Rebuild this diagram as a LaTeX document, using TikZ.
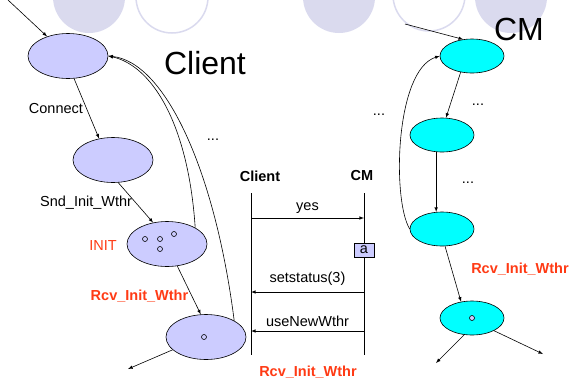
\documentclass[tikz,border=0pt]{standalone}
\usepackage{fontspec}
\setmainfont{Liberation Sans}
\usepackage{xcolor}
\usetikzlibrary{shapes.geometric}

\definecolor{clientfill}{HTML}{CCCCFF}
\definecolor{cmfill}{HTML}{00FFFF}
\definecolor{rcvred}{HTML}{FF3A14}
\definecolor{bgcirc}{HTML}{DADAEE}

\begin{document}
\begin{tikzpicture}[
    x = 1pt, y = -1pt,
    line width              = 0.6pt,
    every node/.style       = {font=\fontsize{14.5}{16}\selectfont},
    cstate/.style           = {ellipse, draw, fill=clientfill, minimum width=80pt, minimum height=45pt, inner sep=0},
    mstate/.style           = {ellipse, draw, fill=cmfill, minimum width=64pt, minimum height=34pt, inner sep=0},
    tok/.style              = {circle, draw, inner sep=0, minimum size=5pt},
    rcv/.style              = {text=rcvred, font=\fontsize{14.5}{16}\selectfont\bfseries},
    big/.style              = {font=\fontsize{32}{36}\selectfont},
    msg/.style              = {-latex}
  ]
\useasboundingbox (0,0) rectangle (570,381);
% background decoration
\fill[bgcirc] (89,-3) circle[radius=36pt];
\draw[bgcirc, line width=1.5pt] (172,-3) circle[radius=36pt];
\fill[bgcirc] (339,-3) circle[radius=36pt];
\draw[bgcirc, line width=1.5pt] (429,-5) circle[radius=36pt];
\fill[bgcirc] (511,-3) circle[radius=36pt];

% client automaton
\node[big] (clienttitle) at (205,63) {Client};
\node[cstate] (E1) at (68,56) {};
\node[cstate] (E2) at (113,160) {};
\node[cstate] (E3) at (167,244) {};
\node[cstate] (E4) at (206,337) {};
\node[tok] (t1) at (145,239) {};
\node[tok] (t2) at (160,239) {};
\node[tok] (t3) at (174,234) {};
\node[tok] (t4) at (160,249) {};
\node[tok] (t5) at (204,337) {};
\node[text=rcvred] (init) at (103,246) {INIT};
\node (cdots) at (213,140) {...};
\coordinate (cin) at (8,0);
\coordinate (cout) at (128,369);

\draw[msg] (cin) -- (E1);
\draw[msg] (E1.-75) -- node[left]{Connect} (E2.123);
\draw[msg] (E2.-77) -- node[left]{Snd\_Init\_Wthr} (E3.123);
\draw[msg] (E3.-65) -- node[left, rcv, pos=.62]{Rcv\_Init\_Wthr} (E4.103);
\draw[msg] (E4.201) -- (cout);
\draw[msg] (E3.30) .. controls (188,120) and (150,65) .. (E1.east);
\draw[msg] (E4.30) .. controls (215,170) and (165,62) .. (E1.east);

% CM automaton
\node[big] (cmtitle) at (519,29) {CM};
\node[mstate] (C1) at (472,56) {};
\node[mstate] (C2) at (442,135) {};
\node[mstate] (C3) at (442,229) {};
\node[mstate] (C4) at (472,318) {};
\node[tok, fill=clientfill] (t6) at (472,318) {};
\node (mdots1) at (379,115) {...};
\node (mdots2) at (478,105) {...};
\node (mdots3) at (468,183) {...};
\node[rcv] (mrcv) at (520,269) {Rcv\_Init\_Wthr};
\coordinate (min) at (405,24);
\coordinate (mout1) at (436,363);
\coordinate (mout2) at (543,354);

\draw[msg] (min) -- (C1.118);
\draw[msg] (C1.235) -- (C2.77);
\draw[msg] (C2.251) -- (C3.109);
\draw[msg] (C3.280) -- (C4.124);
\draw[msg] (C4.245) -- (mout1);
\draw[msg] (C4.330) -- (mout2);
\draw[msg] (C3.west) .. controls (392,200) and (395,70) .. (C1.west);

% message sequence
\node[font=\fontsize{14.5}{16}\selectfont\bfseries] (hcl) at (260,176) {Client};
\node[font=\fontsize{14.5}{16}\selectfont\bfseries] (hcm) at (362,176) {CM};
\coordinate (clt) at (251,193);
\coordinate (clb) at (251,355);
\coordinate (cmt) at (364,193);
\coordinate (cmb) at (364,355);
\draw (clt) -- (clb);
\draw (cmt) -- (cmb);
\coordinate (yes1) at (251,218);
\coordinate (yes2) at (364,218);
\coordinate (set1) at (364,292);
\coordinate (set2) at (251,292);
\coordinate (use1) at (364,331);
\coordinate (use2) at (251,331);
\draw[msg] (yes1) -- node[above=1pt]{yes} (yes2);
\draw[msg] (set1) -- node[above=3pt]{setstatus(3)} (set2);
\draw[msg] (use1) -- node[above=1pt]{useNewWthr} (use2);
\node[draw, fill=clientfill, minimum width=20pt, minimum height=14pt, inner sep=0] (abox) at (364,250) {a};
\node[rcv] (srcv) at (308,372) {Rcv\_Init\_Wthr};
\end{tikzpicture}
\end{document}
